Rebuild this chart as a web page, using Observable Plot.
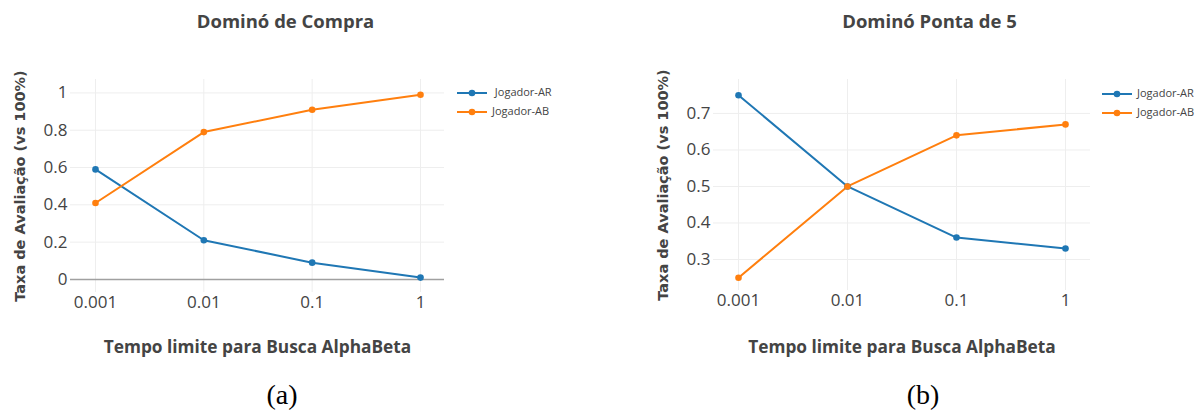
<!DOCTYPE html>
<html><head><meta charset="utf-8">
<script src="https://cdn.jsdelivr.net/npm/d3@7"></script>
<script src="https://cdn.jsdelivr.net/npm/@observablehq/plot@0.6"></script>
<style>
body{margin:0;background:#fff;}
#wrap{position:relative;width:1197px;height:412px;overflow:hidden;font-family:"Open Sans",sans-serif;color:#444;background:#fff;}
.panel{position:absolute;top:0;}
.legend{position:absolute;font-family:"Open Sans",sans-serif;font-size:11px;color:#444;line-height:18.5px;white-space:pre;}
.legend svg{vertical-align:middle;margin-right:5px;}
.cap{position:absolute;font-family:"Liberation Serif",serif;font-size:28px;line-height:32px;color:#000;transform:translate(-50%,-50%);white-space:nowrap;}
</style></head><body><div id="wrap"></div>
<script>
// ---- data ----
const times = [0.001, 0.01, 0.1, 1];
const timeLabels = ["0.001", "0.01", "0.1", "1"];
const series = ["Jogador-AR", "Jogador-AB"];
const colors = ["#1f77b4", "#ff7f0e"];
const compraAR = [0.59, 0.21, 0.09, 0.01];
const compraAB = [0.41, 0.79, 0.91, 0.99];
const pontaAR = [0.75, 0.50, 0.36, 0.33];
const pontaAB = [0.25, 0.50, 0.64, 0.67];
const compraYTicks = [0, 0.2, 0.4, 0.6, 0.8, 1];
const pontaYTicks = [0.3, 0.4, 0.5, 0.6, 0.7];
const titles = ["Dominó de Compra", "Dominó Ponta de 5"];
const xTitle = "Tempo limite para Busca AlphaBeta";
const yTitle = "Taxa de Avaliação (vs 100%)";
const captions = ["(a)", "(b)"];

const wrap = document.getElementById("wrap");

function rows(ar, ab) {
  return times.flatMap((t, i) => [
    {t, v: ar[i], s: series[0]},
    {t, v: ab[i], s: series[1]}
  ]);
}

function panel({ar, ab, yTicks, yDomain, xDomainExp, mL, mR, mT, mB, title, titleDx, xTitleDy, zero, left}) {
  const data = rows(ar, ab);
  const W = 565, H = 370;
  const gridYTicks = zero ? yTicks.filter(d => d !== 0) : yTicks;
  const p = Plot.plot({
    width: W, height: H,
    marginLeft: mL, marginRight: mR, marginTop: mT, marginBottom: mB,
    style: {fontFamily: "Open Sans", fontSize: "17px", color: "#444", background: "transparent", overflow: "visible"},
    x: {type: "log", domain: xDomainExp.map(e => Math.pow(10, e)), label: null},
    y: {domain: yDomain, label: null},
    color: {domain: series, range: colors},
    marks: [
      Plot.gridX(times, {stroke: "#eee", strokeOpacity: 1, strokeWidth: 1}),
      Plot.gridY(gridYTicks, {stroke: "#eee", strokeOpacity: 1, strokeWidth: 1}),
      zero ? Plot.ruleY([0], {stroke: "#a0a0a0", strokeWidth: 1.6}) : null,
      Plot.axisX({ticks: times, tickFormat: d => timeLabels[times.indexOf(d)], tickSize: 0, tickPadding: 3, fill: "#444", label: null}),
      Plot.axisY({ticks: yTicks, tickFormat: d => String(d), tickSize: 0, tickPadding: 3, fill: "#444", label: null}),
      Plot.lineY(data, {x: "t", y: "v", z: "s", stroke: "s", strokeWidth: 2}),
      Plot.dot(data, {x: "t", y: "v", fill: "s", r: 3.3}),
      Plot.text([title], {text: d => d, frameAnchor: "top", dx: titleDx, dy: -57, lineAnchor: "middle", fontSize: 18.5, fontWeight: "bold", fill: "#444", fontFamily: "Open Sans"}),
      Plot.text([xTitle], {text: d => d, frameAnchor: "bottom", dy: xTitleDy, lineAnchor: "middle", fontSize: 17.3, fontWeight: "bold", fill: "#444", fontFamily: "Open Sans"}),
      Plot.text([yTitle], {text: d => d, frameAnchor: "left", textAnchor: "middle", dx: -50, rotate: -90, lineAnchor: "middle", fontSize: 14.5, fontWeight: "bold", fill: "#444", fontFamily: "DejaVu Sans"})
    ]
  });
  p.classList.add("panel");
  p.style.left = left + "px";
  wrap.appendChild(p);
}

panel({ar: compraAR, ab: compraAB, yTicks: compraYTicks, yDomain: [-0.07, 1.072], xDomainExp: [-3.2308, 0.2215],
  mL: 70, mR: 121, mT: 79, mB: 78, title: titles[0], titleDx: 28, xTitleDy: 55, zero: true, left: 0});
panel({ar: pontaAR, ab: pontaAB, yTicks: pontaYTicks, yDomain: [0.215, 0.793], xDomainExp: [-3.2294, 0.2294],
  mL: 70, mR: 118, mT: 79, mB: 80, title: titles[1], titleDx: 27.5, xTitleDy: 57, zero: false, left: 643});

function legend(left, top, labels) {
  const d = document.createElement("div");
  d.className = "legend";
  d.style.left = left + "px";
  d.style.top = top + "px";
  d.innerHTML = labels.map((lab, i) =>
    `<div><svg width="30" height="8"><line x1="0" x2="30" y1="4" y2="4" stroke="${colors[i]}" stroke-width="2"/><circle cx="15" cy="4" r="3.3" fill="${colors[i]}"/></svg>${lab}</div>`
  ).join("");
  wrap.appendChild(d);
}
legend(457, 83, [" " + series[0], series[1]]);
legend(1102, 84, series);

function caption(x, y, t) {
  const d = document.createElement("div");
  d.className = "cap";
  d.style.left = x + "px";
  d.style.top = y + "px";
  d.textContent = t;
  wrap.appendChild(d);
}
caption(282, 395, captions[0]);
caption(923, 395, captions[1]);
</script>
</body></html>
